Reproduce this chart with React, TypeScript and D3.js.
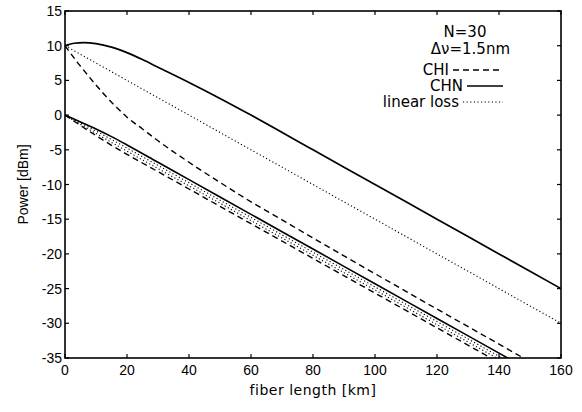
import React from "react";
import * as d3 from "d3";

// ---------- data ----------
const xTicks = [0, 20, 40, 60, 80, 100, 120, 140, 160];
const yTicks = [15, 10, 5, 0, -5, -10, -15, -20, -25, -30, -35];

// CHN, launched at 10 dBm (solid)
const chnHighX = [0, 3, 6, 10, 15, 20, 25, 30, 40, 50, 60, 80, 100, 120, 140, 160];
const chnHighY = [10, 10.35, 10.45, 10.3, 9.8, 9.0, 8.0, 6.9, 4.7, 2.4, 0.0, -5, -10, -15, -20, -25];

// CHI, launched at 10 dBm (dashed)
const chiHighX = [0, 4, 8, 12, 16, 20, 25, 30, 40, 50, 60, 70, 80, 100, 120, 140, 160];
const chiHighY = [10, 7.6, 5.4, 3.3, 1.4, -0.3, -2.0, -3.7, -6.8, -9.7, -12.5, -15.1, -17.7, -22.85, -27.95, -33.0, -38.1];

// linear loss, launched at 10 dBm (dotted)
const linHighX = [0, 160];
const linHighY = [10, -30];

// lower group, launched at 0 dBm
const lowX = [0, 5, 10, 15, 20, 30, 40, 60, 80, 100, 120, 140, 160];
const chnLowY = [0, -1.0, -2.0, -3.1, -4.3, -6.8, -9.3, -14.3, -19.3, -24.3, -29.3, -34.3, -39.3];
const dotLowAY = [0, -1.15, -2.3, -3.5, -4.75, -7.25, -9.75, -14.75, -19.75, -24.75, -29.75, -34.75, -39.75];
const dotLowBY = [0, -1.35, -2.65, -3.93, -5.2, -7.7, -10.2, -15.2, -20.2, -25.2, -30.2, -35.2, -40.2];
const chiLowY = [0, -1.5, -2.95, -4.35, -5.65, -8.15, -10.65, -15.65, -20.65, -25.65, -30.65, -35.65, -40.65];

// ---------- layout ----------
const W = 582, H = 412;
const L = 65, R = 561, T = 11, B = 358;

const DASH = "6,4";
const DOT = "1.2,2.4";

export default function App() {
  const x = d3.scaleLinear().domain([0, 160]).range([L, R]);
  const y = d3.scaleLinear().domain([-35, 15]).range([B, T]);

  const mk = (xs: number[], ys: number[]) =>
    d3
      .line<number>()
      .x((_, i) => x(xs[i]))
      .y((d) => y(d))
      .curve(d3.curveMonotoneX)(ys) || "";

  const series = [
    { d: mk(chnHighX, chnHighY), dash: undefined, w: 1.7 },
    { d: mk(chiHighX, chiHighY), dash: DASH, w: 1.4 },
    { d: mk(linHighX, linHighY), dash: DOT, w: 1.1 },
    { d: mk(lowX, chnLowY), dash: undefined, w: 1.6 },
    { d: mk(lowX, dotLowAY), dash: DOT, w: 1.1 },
    { d: mk(lowX, dotLowBY), dash: DOT, w: 1.1 },
    { d: mk(lowX, chiLowY), dash: DASH, w: 1.4 },
  ];

  const tk = 4;
  const font = "'Liberation Sans', Arial, sans-serif";
  const lfont = "'DejaVu Sans', sans-serif";

  return (
    <svg
      width={W}
      height={H}
      style={{ position: "absolute", left: 0, top: 0, background: "#fff" }}
    >
      <defs>
        <clipPath id="plot">
          <rect x={L} y={T} width={R - L} height={B - T} />
        </clipPath>
      </defs>
      <rect x={0} y={0} width={W} height={H} fill="#fff" />

      <g clipPath="url(#plot)" fill="none" stroke="#000">
        {series.map((s, i) => (
          <path key={i} d={s.d} strokeWidth={s.w} strokeDasharray={s.dash} />
        ))}
      </g>

      {/* frame */}
      <rect x={L} y={T} width={R - L} height={B - T} fill="none" stroke="#000" strokeWidth={1.6} />

      {/* x ticks */}
      {xTicks.map((t) => (
        <g key={"x" + t}>
          <line x1={x(t)} x2={x(t)} y1={B} y2={B - tk} stroke="#000" strokeWidth={1.2} />
          <line x1={x(t)} x2={x(t)} y1={T} y2={T + tk} stroke="#000" strokeWidth={1.2} />
          <text
            x={x(t)}
            y={B + 17}
            textAnchor="middle"
            fontFamily={font}
            fontSize={14}
            fill="#000"
          >
            {t}
          </text>
        </g>
      ))}

      {/* y ticks */}
      {yTicks.map((t) => (
        <g key={"y" + t}>
          <line x1={L} x2={L + tk} y1={y(t)} y2={y(t)} stroke="#000" strokeWidth={1.2} />
          <line x1={R} x2={R - tk} y1={y(t)} y2={y(t)} stroke="#000" strokeWidth={1.2} />
          <text
            x={L - 3}
            y={y(t) + 5}
            textAnchor="end"
            fontFamily={font}
            fontSize={14}
            fill="#000"
          >
            {t}
          </text>
        </g>
      ))}

      {/* axis titles */}
      <text
        x={(L + R) / 2}
        y={395}
        textAnchor="middle"
        fontFamily={lfont}
        fontSize={14}
        fill="#000"
        letterSpacing={0.5}
      >
        fiber length [km]
      </text>
      <text
        transform={`translate(28,${(T + B) / 2}) rotate(-90)`}
        textAnchor="middle"
        fontFamily={font}
        fontSize={14}
        fill="#000"
      >
        Power  [dBm]
      </text>

      {/* legend */}
      <g fontFamily={lfont} fontSize={15} fill="#000">
        <text x={465} y={37} textAnchor="middle">N=30</text>
        <text x={510} y={54} textAnchor="end">Δν=1.5nm</text>
        <text x={449} y={75} textAnchor="end">CHI</text>
        <text x={463} y={91} textAnchor="end">CHN</text>
        <text x={459} y={107} textAnchor="end">linear loss</text>
      </g>
      <g stroke="#000" fill="none">
        <line x1={453} x2={503} y1={70} y2={70} strokeWidth={1.4} strokeDasharray={DASH} />
        <line x1={467} x2={503} y1={86} y2={86} strokeWidth={1.7} />
        <line x1={463} x2={503} y1={102} y2={102} strokeWidth={1.1} strokeDasharray={DOT} />
      </g>
    </svg>
  );
}
